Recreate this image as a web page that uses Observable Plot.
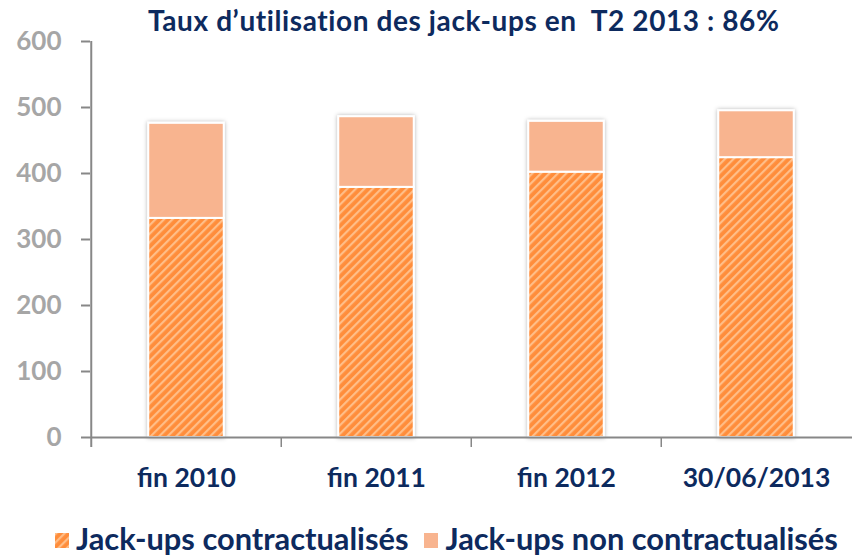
<!DOCTYPE html>
<html><head><meta charset="utf-8">
<script src="https://cdn.jsdelivr.net/npm/d3@7"></script>
<script src="https://cdn.jsdelivr.net/npm/@observablehq/plot@0.6"></script>
<style>
body{margin:0;background:#fff;font-family:Lato,"Open Sans",sans-serif;}
#wrap{position:relative;width:852px;height:557px;overflow:hidden;}
#title{position:absolute;top:2px;left:148px;white-space:nowrap;font-weight:700;font-size:28px;line-height:36px;color:#0d2a5e;letter-spacing:0.6px;}
#chart{position:absolute;top:0;left:0;}
#legend{position:absolute;top:521px;left:55px;white-space:nowrap;font-weight:700;font-size:30.8px;line-height:36px;color:#0d2a5e;display:flex;align-items:center;}
#legend .item{display:flex;align-items:center;margin-right:16px;}
#legend svg{margin-right:7px;margin-top:3px;}
</style></head>
<body><div id="wrap"><div id="title">Taux d’utilisation des jack-ups en&nbsp; T2 2013 : 86%</div><div id="chart"></div><div id="legend"></div></div>
<script>
const categories = ["fin 2010", "fin 2011", "fin 2012", "30/06/2013"];
const contractualises = [332, 379, 402, 424];
const nonContractualises = [144, 107, 77, 71];
const seriesNames = ["Jack-ups contractualisés", "Jack-ups non contractualisés"];
const yTicks = [0, 100, 200, 300, 400, 500, 600];
const seriesFills = ["url(#hatch)", "#f8b48f"];

const rows = [];
categories.forEach((c, i) => {
  rows.push({cat: c, series: seriesNames[0], value: contractualises[i]});
  rows.push({cat: c, series: seriesNames[1], value: nonContractualises[i]});
});

const W = 852, H = 505, ML = 90, MR = 0;
const bw = (W - ML - MR) / categories.length;
const inset = (bw - 76) / 2;

const svg = Plot.plot({
  width: W, height: H,
  marginTop: 41, marginBottom: H - 437, marginLeft: ML, marginRight: MR,
  style: {fontFamily: "Lato, 'Open Sans', sans-serif", overflow: "visible"},
  x: {domain: categories, padding: 0, label: null},
  y: {domain: [0, 600], label: null},
  color: {domain: seriesNames, range: seriesFills},
  marks: [
    Plot.barY(rows, {x: "cat", y: "value", fill: "series", stroke: "white", strokeWidth: 2,
      insetLeft: inset, insetRight: inset}),
    Plot.ruleY([0], {stroke: "#878787", strokeWidth: 2}),
    Plot.ruleX([categories[0]], {x: d => d, y1: 600, y2: -15, dx: -bw / 2, stroke: "#878787", strokeWidth: 2}),
    Plot.ruleX(categories.slice(1), {x: d => d, y1: 0, y2: -15, dx: -bw / 2, stroke: "#878787", strokeWidth: 1.5}),
    Plot.axisY({ticks: yTicks, tickSize: 9, tickPadding: 20, stroke: "#878787", strokeWidth: 2,
      fill: "#a6a6a6", fontSize: 26, fontWeight: "bold", tickFormat: d => String(d)}),
    Plot.axisX({tickSize: 0, tickPadding: 31, fill: "#0d2a5e", fontSize: 26.5, fontWeight: "bold"})
  ]
});

const defs = d3.select(svg).insert("defs", ":first-child");
const p = defs.append("pattern").attr("id", "hatch").attr("patternUnits", "userSpaceOnUse")
  .attr("width", 6).attr("height", 6).attr("patternTransform", "rotate(45)");
p.append("rect").attr("width", 6).attr("height", 6).attr("fill", "#ff8d3b");
p.append("rect").attr("width", 2.2).attr("height", 6).attr("fill", "#ffbe88");
const sh = defs.append("filter").attr("id", "shadow").attr("x", "-20%").attr("y", "-5%").attr("width", "140%").attr("height", "110%");
sh.append("feDropShadow").attr("dx", 0).attr("dy", 0).attr("stdDeviation", 2).attr("flood-color", "#000").attr("flood-opacity", 0.3);
d3.select(svg).select("g[aria-label='bar']").attr("filter", "url(#shadow)");

document.getElementById("chart").appendChild(svg);

const legend = d3.select("#legend");
seriesNames.forEach((name, i) => {
  const item = legend.append("div").attr("class", "item");
  const s = item.append("svg").attr("width", 14).attr("height", 15);
  s.append("rect").attr("width", 14).attr("height", 15).attr("fill", seriesFills[i]);
  item.append("span").text(name);
});
</script></body></html>
